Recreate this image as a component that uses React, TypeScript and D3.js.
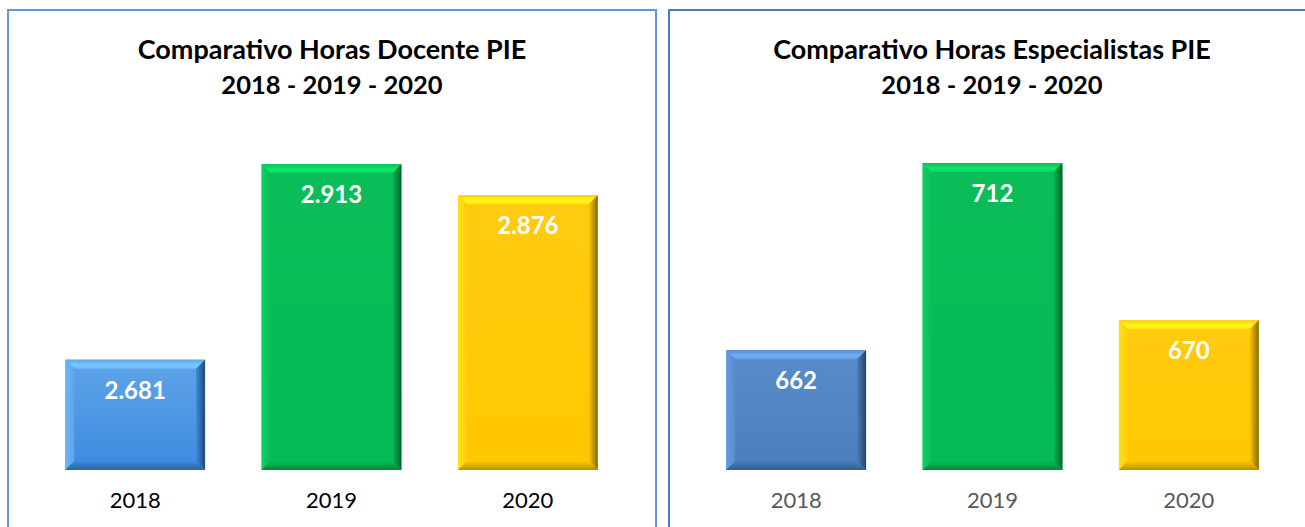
import React from 'react';
import * as d3 from 'd3';

const width = 1305;
const height = 527;

const years = ['2018', '2019', '2020'];
const docenteValues = [2681, 2913, 2876];
const especialistaValues = [662, 712, 670];
const docenteTitle = ['Comparativo Horas Docente PIE', '2018 - 2019 - 2020'];
const especialistaTitle = ['Comparativo Horas Especialistas PIE', '2018 - 2019 - 2020'];

const font = 'Lato, "Open Sans", sans-serif';
const baseY = 470;
const bevel = 9;

const locale = d3.formatLocale({ decimal: ',', thousands: '.', grouping: [3], currency: ['$', ''] });
const fmt = locale.format(',d');

// base colours per bar (top, bottom of the face)
const docenteColors = [
  ['#5fa4e6', '#3d8ae0'],
  ['#0abd58', '#05bb55'],
  ['#ffcb10', '#ffc800'],
];
const especialistaColors = [
  ['#5a8ccb', '#4a7ebd'],
  ['#0abd58', '#05bb55'],
  ['#ffcb10', '#ffc800'],
];

type PanelProps = {
  id: string;
  x0: number;
  x1: number;
  title: string[];
  values: number[];
  colors: string[][];
  domain: [number, number];
  labelColor: string;
  borderColor: string;
  borderLeft: number;
  borderRight: number;
};

const Bar = ({ x, y, w, h, c, id }: { x: number; y: number; w: number; h: number; c: string[]; id: string }) => {
  const light = d3.color(c[0])!.brighter(0.6).formatHex();
  const light2 = d3.color(c[0])!.brighter(0.3).formatHex();
  const dark = d3.color(c[1])!.darker(1.8).formatHex();
  const dark2 = d3.color(c[1])!.darker(0.9).formatHex();
  const b = bevel;
  return (
    <g>
      <defs>
        <linearGradient id={`face-${id}`} x1="0" y1="0" x2="0" y2="1">
          <stop offset="0" stopColor={c[0]} />
          <stop offset="1" stopColor={c[1]} />
        </linearGradient>
        <linearGradient id={`top-${id}`} x1="0" y1="0" x2="0" y2="1">
          <stop offset="0" stopColor={c[0]} />
          <stop offset="0.6" stopColor={light} />
          <stop offset="1" stopColor={light2} />
        </linearGradient>
        <linearGradient id={`right-${id}`} x1="0" y1="0" x2="1" y2="0">
          <stop offset="0" stopColor={c[1]} />
          <stop offset="1" stopColor={dark} />
        </linearGradient>
        <linearGradient id={`bottom-${id}`} x1="0" y1="0" x2="0" y2="1">
          <stop offset="0" stopColor={c[1]} />
          <stop offset="1" stopColor={dark2} />
        </linearGradient>
        <linearGradient id={`left-${id}`} x1="0" y1="0" x2="1" y2="0">
          <stop offset="0" stopColor={light2} />
          <stop offset="1" stopColor={c[0]} />
        </linearGradient>
      </defs>
      <rect x={x} y={y} width={w} height={h} fill={`url(#face-${id})`} />
      <polygon points={`${x},${y} ${x + w},${y} ${x + w - b},${y + b} ${x + b},${y + b}`} fill={`url(#top-${id})`} />
      <polygon points={`${x},${y} ${x + b},${y + b} ${x + b},${y + h - b} ${x},${y + h}`} fill={`url(#left-${id})`} />
      <polygon points={`${x + w},${y} ${x + w},${y + h} ${x + w - b},${y + h - b} ${x + w - b},${y + b}`} fill={`url(#right-${id})`} />
      <polygon points={`${x},${y + h} ${x + b},${y + h - b} ${x + w - b},${y + h - b} ${x + w},${y + h}`} fill={`url(#bottom-${id})`} />
    </g>
  );
};

const Panel = (p: PanelProps) => {
  const x = d3.scaleBand<string>().domain(years).range([p.x0, p.x1]).paddingInner(0.288).paddingOuter(0.144);
  const y = d3.scaleLinear().domain(p.domain).range([baseY, 133]);
  const cx = (p.borderLeft + p.borderRight) / 2;
  return (
    <g>
      <rect
        x={p.borderLeft}
        y={10}
        width={p.borderRight - p.borderLeft}
        height={height + 20}
        fill="white"
        stroke={p.borderColor}
        strokeWidth={2}
      />
      {p.title.map((t, i) => (
        <text key={i} x={p.titleX ?? cx} y={59 + i * 35} textAnchor="middle" fontFamily={font} fontWeight="bold" fontSize={i === 0 ? 27 : 25.5} fill="#000">
          {t}
        </text>
      ))}
      {years.map((yr, i) => {
        const bx = x(yr)!;
        const by = y(p.values[i]);
        return (
          <g key={yr}>
            <Bar id={`${p.id}-${i}`} x={bx} y={by} w={x.bandwidth()} h={baseY - by} c={p.colors[i]} />
            <text x={bx + x.bandwidth() / 2} y={by + 39} textAnchor="middle" fontFamily={font} fontWeight="bold" fontSize={24} fill="#fff">
              {fmt(p.values[i])}
            </text>
            <text x={bx + x.bandwidth() / 2} y={508} textAnchor="middle" fontFamily={font} fontSize={22} fill={p.labelColor}>
              {yr}
            </text>
          </g>
        );
      })}
    </g>
  );
};

const App = () => {
  return (
    <svg width={width} height={height} style={{ position: 'absolute', left: 0, top: 0 }}>
      <rect width={width} height={height} fill="white" />
      <Panel
        id="doc"
        x0={37}
        x1={626}
        title={docenteTitle}
        values={docenteValues}
        colors={docenteColors}
        domain={[2550, 2950]}
        labelColor="#000"
        borderColor="#5b9bd5"
        borderLeft={8}
        borderRight={656}
        titleX={332}
      />
      <Panel
        id="esp"
        x0={698}
        x1={1287}
        title={especialistaTitle}
        values={especialistaValues}
        colors={especialistaColors}
        domain={[630, 720]}
        labelColor="#595959"
        borderColor="#4a7ebb"
        borderLeft={669}
        borderRight={1320}
        titleX={992}
      />
    </svg>
  );
};

export default App;
